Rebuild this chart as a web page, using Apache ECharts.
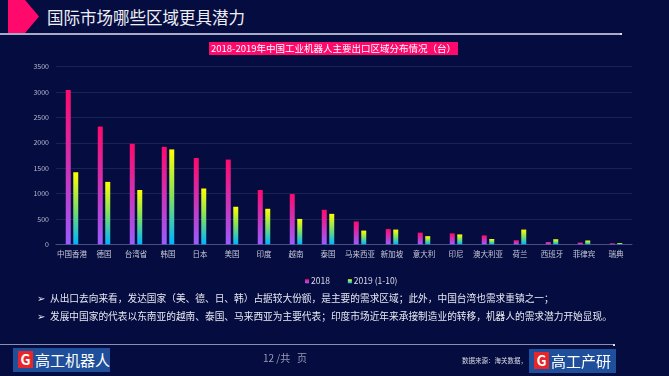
<!DOCTYPE html>
<html>
<head>
<meta charset="utf-8">
<script src="https://cdn.jsdelivr.net/npm/echarts@6/dist/echarts.min.js"></script>
<style>
  html, body { margin: 0; padding: 0; }
  body { width: 669px; height: 376px; background: #040c40; position: relative; overflow: hidden;
    font-family: "Noto Sans CJK SC", "Noto Sans", sans-serif; }
  #chart { position: absolute; left: 0; top: 0; width: 669px; height: 376px; }
  .arrow { position: absolute; left: 8px; top: 0; width: 31px; height: 33px; background: #ff0a6c;
    clip-path: polygon(0 0, 55% 0, 100% 50%, 55% 100%, 0 100%); }
  .head { position: absolute; left: 47px; top: 6px; font-size: 16.5px; color: #eeeef4; line-height: 22px; }
  .topline { position: absolute; left: 0; top: 33px; width: 621px; height: 1.5px; background: #a8abc8; }
  .botline { position: absolute; left: 0; top: 344px; width: 614px; height: 1px; background: #8a8eb0; }
  .dot { position: absolute; width: 2px; height: 2px; background: #dde; }
  .bullets { position: absolute; left: 37px; top: 289px; font-size: 9.7px; color: #e8e8f2; line-height: 18px; }
  .bullets span { display: inline-block; width: 13px; }
  .logo { position: absolute; top: 348px; height: 24px; background: #1f4f9a; color: #fff;
    font-size: 15px; line-height: 24px; white-space: nowrap; overflow: hidden; }
  .logo b { display: inline-block; width: 15px; height: 17px; margin: 3px 2px 0 5px; background: #e8262a;
    color: #fff; font-size: 14px; line-height: 17px; text-align: center; vertical-align: top; font-weight: bold; }
  .page { position: absolute; left: 263px; top: 350px; font-size: 10px; color: #9a9cb5; }
  .src { position: absolute; left: 462px; top: 355px; font-size: 6.5px; color: #d8d8e4; }
</style>
</head>
<body>
<div class="arrow"></div>
<div class="head">国际市场哪些区域更具潜力</div>
<div class="topline"></div>
<div class="dot" style="left:620px;top:33px"></div>
<div id="chart"></div>
<div class="bullets">
  <div><span>➢</span>从出口去向来看，发达国家（美、德、日、韩）占据较大份额，是主要的需求区域；此外，中国台湾也需求重镇之一；</div>
  <div><span>➢</span>发展中国家的代表以东南亚的越南、泰国、马来西亚为主要代表；印度市场近年来承接制造业的转移，机器人的需求潜力开始显现。</div>
</div>
<div class="botline"></div>
<div class="dot" style="left:613px;top:343.5px"></div>
<div class="logo" style="left:13px;width:97px"><b>G</b>高工机器人</div>
<div class="page">12 /共&nbsp;&nbsp;&nbsp;页</div>
<div class="src">数据来源：海关数据，</div>
<div class="logo" style="left:529px;width:87px;top:349px"><b>G</b>高工产研</div>
<script>
  const categories = ['中国香港', '德国', '台湾省', '韩国', '日本', '美国', '印度', '越南', '泰国',
    '马来西亚', '新加坡', '意大利', '印尼', '澳大利亚', '荷兰', '西班牙', '菲律宾', '瑞典']
  const data2018 = [3040, 2320, 1980, 1920, 1700, 1670, 1070, 990, 680, 450, 300, 230, 215, 175, 80, 45, 35, 20]
  const data2019 = [1420, 1230, 1070, 1870, 1100, 740, 700, 500, 600, 270, 290, 160, 195, 105, 290, 100, 75, 25]
  const seriesNames = ['2018', '2019 (1-10)']
  const chartTitle = '2018-2019年中国工业机器人主要出口区域分布情况（台）'

  const grad2018 = new echarts.graphic.LinearGradient(0, 0, 0, 1, [
    { offset: 0, color: '#ff0a6c' },
    { offset: 1, color: '#9b5cff' }
  ])
  const grad2019 = new echarts.graphic.LinearGradient(0, 0, 0, 1, [
    { offset: 0, color: '#ffff00' },
    { offset: 0.5, color: '#7fe060' },
    { offset: 1, color: '#00b4ff' }
  ])

  const myChart = echarts.init(document.getElementById('chart'))
  myChart.setOption({
    animation: false,
    textStyle: { fontFamily: '"Noto Sans CJK SC", sans-serif' },
    title: {
      text: chartTitle,
      left: 209,
      top: 42,
      padding: [1, 2, 1, 2],
      backgroundColor: '#ff0a6c',
      textStyle: { color: '#ffffff', fontSize: 9.5, fontWeight: 'normal', lineHeight: 11 }
    },
    legend: {
      data: seriesNames,
      left: 300,
      top: 272,
      itemWidth: 4,
      itemHeight: 4,
      itemGap: 18,
      icon: 'rect',
      textStyle: { color: '#dcdcea', fontSize: 8.5, padding: [0, 0, 0, -3] }
    },
    grid: { left: 56, right: 37, top: 66.7, bottom: 131.7 },
    xAxis: {
      type: 'category',
      data: categories,
      axisLine: { lineStyle: { color: '#4a507e' } },
      axisTick: { show: false },
      axisLabel: { color: '#c8c8d8', fontSize: 7.5, interval: 0, margin: 6 }
    },
    yAxis: {
      type: 'value',
      min: 0,
      max: 3500,
      interval: 500,
      axisLine: { show: false },
      axisTick: { show: false },
      axisLabel: { color: '#b8b8cc', fontSize: 7, margin: 7, formatter: v => String(v) },
      splitLine: { lineStyle: { color: '#1a2256' } }
    },
    series: [{
      name: seriesNames[0],
      type: 'bar',
      data: data2018,
      barWidth: 5,
      barGap: '50%',
      itemStyle: { color: grad2018 }
    }, {
      name: seriesNames[1],
      type: 'bar',
      data: data2019,
      barWidth: 5,
      itemStyle: { color: grad2019 }
    }]
  })
</script>
</body>
</html>
